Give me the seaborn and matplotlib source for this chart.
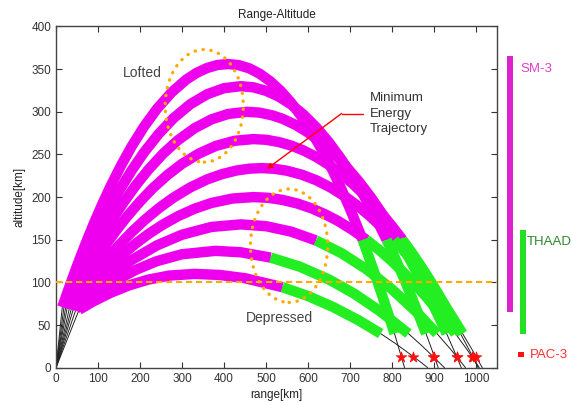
import numpy as np
import pandas as pd
import matplotlib
matplotlib.use('Agg')
import matplotlib.pyplot as plt
import seaborn as sns
from matplotlib.patches import Ellipse

# ---- trajectory data (range km, altitude km), named by apogee altitude ----
r110 = [0, 55, 90, 130, 175, 220, 270, 330, 390, 450, 539, 600, 660, 720, 773, 810, 851, 870, 885]
h110 = [0, 68, 78.0, 87.8, 96.7, 103.3, 108.0, 110, 108.7, 104.9, 94.4, 84.0, 71.1, 55.7, 40, 27.7, 13, 5.9, 0]

r138 = [0, 48, 90, 140, 190, 240, 300, 380, 440, 511, 580, 650, 710, 770, 839, 870, 898, 925]
h138 = [0, 69, 85.1, 101.5, 114.7, 124.9, 133.0, 137, 135.3, 129.1, 118.5, 103.4, 86.8, 66.8, 40, 26.3, 13, 0]

r170 = [0, 42, 80, 130, 180, 240, 300, 370, 440, 500, 560, 619, 680, 740, 800, 860, 907, 940, 954, 975]
h170 = [0, 70, 87.8, 108.5, 126.2, 143.3, 155.9, 165.0, 168, 165.9, 159.5, 149.2, 134.2, 115.2, 91.9, 64.5, 40, 21.3, 13, 0]

r200 = [0, 37, 52, 70, 90, 110, 135, 160, 190, 220, 255, 290, 330, 370, 420, 470, 505, 540, 575, 610,
        640, 670, 705, 739, 770, 800, 830, 860, 885, 910, 930, 951, 980, 990, 1008]
h200 = [0, 70, 78.8, 89.1, 99.9, 110.1, 122.2, 133.4, 145.6, 156.7, 167.9, 177.5, 186.4, 193.1, 198.3, 200, 199.2, 196.6, 192.4, 186.5,
        180.0, 172.4, 161.8, 150, 137.8, 124.8, 110.4, 94.9, 81.0, 66.2, 53.8, 40, 20.3, 13, 0]

r235 = [0, 32, 45, 60, 80, 100, 125, 150, 180, 210, 245, 280, 320, 360, 395, 430, 460, 490, 520, 550,
        585, 620, 655, 690, 720, 750, 780, 805, 835, 860, 885, 910, 940, 968, 990, 1000, 1015]
h235 = [0, 70, 79.2, 89.4, 102.6, 115.1, 129.8, 143.6, 158.9, 172.7, 187.1, 199.5, 211.4, 220.8, 226.9, 231.2, 233.3, 234, 233.2, 230.9,
        226.3, 219.7, 210.9, 200.0, 189.1, 176.6, 162.6, 150, 133.0, 117.8, 101.5, 84.2, 62.1, 40, 21.8, 13, 0]

r270 = [0, 27, 38, 50, 65, 80, 100, 120, 145, 170, 200, 230, 265, 300, 340, 380, 425, 470, 500, 530,
        560, 590, 620, 650, 680, 710, 740, 770, 800, 825, 848, 870, 890, 910, 940, 963, 985, 992, 1005]
h270 = [0, 71, 80.7, 90.9, 103.3, 115.3, 130.6, 145.0, 162.0, 177.7, 194.8, 210.2, 225.8, 239.0, 251.0, 259.9, 266.0, 268, 267.2, 264.6,
        260.4, 254.5, 246.9, 237.7, 226.7, 214.1, 199.7, 183.7, 166.0, 150, 134.2, 118.2, 102.8, 86.7, 61.2, 40, 19.7, 13, 0]

r300 = [0, 23, 33, 45, 60, 75, 92, 110, 135, 160, 190, 220, 255, 290, 330, 370, 410, 455, 485, 515,
        540, 570, 600, 630, 660, 690, 720, 750, 785, 816, 840, 860, 880, 900, 915, 930, 954, 965]
h300 = [0, 71, 81.5, 93.7, 108.5, 122.8, 138.3, 153.9, 174.3, 193.2, 213.8, 232.2, 250.9, 266.6, 280.8, 291.1, 297.5, 300, 299.0, 295.8,
        291.7, 284.7, 275.7, 264.7, 251.5, 236.3, 219.0, 199.6, 174.4, 150, 129.0, 110.8, 91.7, 71.6, 56.0, 40, 13, 0]

r330 = [0, 19, 28, 40, 52, 65, 82, 100, 125, 150, 180, 210, 245, 280, 320, 360, 400, 440, 470, 500,
        530, 560, 590, 620, 650, 680, 710, 740, 765, 787, 810, 830, 845, 860, 881, 901, 910]
h330 = [0, 71, 82.0, 96.2, 110.0, 124.5, 142.7, 161.1, 185.0, 207.1, 231.2, 252.7, 274.4, 292.6, 309.0, 320.6, 327.7, 330, 328.7, 324.6,
        317.9, 308.5, 296.4, 281.6, 264.1, 243.9, 221.1, 195.6, 172.2, 150, 125.5, 102.8, 85.0, 66.5, 40, 13, 0]

r360 = [0, 15, 25, 35, 47, 60, 75, 90, 110, 130, 155, 180, 210, 240, 275, 310, 335, 360, 385, 410,
        435, 460, 485, 510, 535, 560, 585, 610, 635, 660, 680, 700, 715, 730, 745, 760, 775, 790, 806, 822, 830]
h360 = [0, 71, 85.2, 99.1, 115.3, 132.2, 151.0, 169.0, 191.6, 212.8, 237.2, 259.4, 282.9, 303.2, 322.7, 337.7, 345.7, 351.4, 354.9, 356,
        354.7, 351.0, 344.6, 335.8, 324.5, 310.6, 294.2, 275.3, 253.8, 229.9, 208.9, 186.3, 168.3, 150, 129.5, 108.8, 87.1, 64.6, 40, 13, 0]

traj_names = ['110', '138', '170', '200', '235', '270', '300', '330', '360']
traj_r = [r110, r138, r170, r200, r235, r270, r300, r330, r360]
traj_h = [h110, h138, h170, h200, h235, h270, h300, h330, h360]
# range where the THAAD (green) portion begins on descent
green_start = [539, 511, 619, 739, 805, 825, 816, 787, 730]
thaad_floor = 40

# PAC-3 engagement points (stars)
star_r = [851, 898, 954, 990, 1000, 992, 954, 901, 822]
star_h = [13, 13, 13, 13, 13, 13, 13, 13, 13]

# interceptor altitude coverage (km)
sm3_band = [65, 365]
thaad_band = [40, 162]
pac3_band = [12, 18]

# ---- build tables ----
frames = []
for name, r, h, gs in zip(traj_names, traj_r, traj_h, green_start):
    d = pd.DataFrame({'r': r, 'h': h})
    d['traj'] = name
    d['idx'] = np.arange(len(d))
    d['gs'] = gs
    frames.append(d)
df = pd.concat(frames, ignore_index=True)
mag = df[(df.idx >= 1) & (df.r <= df.gs)]
grn = df[(df.r >= df.gs) & (df.h >= thaad_floor)]

sns.set_style('ticks')
plt.rcParams['font.family'] = ['Liberation Sans', 'DejaVu Sans']

fig = plt.figure(figsize=(5.86, 4.03), dpi=100)
ax = fig.add_axes([56/586, 1-367.7/403, 441/586, 341.2/403])

sns.lineplot(data=df, x='r', y='h', units='traj', estimator=None, sort=False,
             color='#222222', lw=0.7, ax=ax, zorder=2)
sns.lineplot(data=mag, x='r', y='h', units='traj', estimator=None, sort=False,
             color='#ee00ee', lw=7.5, ax=ax, zorder=3,
             solid_capstyle='butt', solid_joinstyle='round')
sns.lineplot(data=grn, x='r', y='h', units='traj', estimator=None, sort=False,
             color='#22ee22', lw=7.5, ax=ax, zorder=4,
             solid_capstyle='butt', solid_joinstyle='round')
sns.scatterplot(x=star_r, y=star_h, marker='*', s=65, color='#ff1010',
                edgecolor='#ff1010', linewidth=0.5, ax=ax, zorder=5)

# 100 km reference line
ax.axhline(100, color='#ffaa00', ls=(0, (3, 1.8)), lw=1.5, zorder=6)

# dotted ellipses
for (cx, cy, w, hgt) in [(353, 307, 186, 132), (555, 143, 184, 133)]:
    e = Ellipse((cx, cy), w, hgt, fill=False, ec='#ffaa00', lw=2.4, zorder=6)
    e.set_linestyle((0, (0.1, 2.3)))
    e.set_capstyle('round')
    ax.add_patch(e)

ax.text(160, 346, 'Lofted', fontsize=10, color='#444444', ha='left', va='center')
ax.text(452, 58, 'Depressed', fontsize=10, color='#444444', ha='left', va='center')
ax.text(748, 298, 'Minimum\nEnergy\nTrajectory', fontsize=9.5, color='#333333',
        ha='left', va='center', linespacing=1.35)
ax.plot([680, 731], [298, 298], color='red', lw=1, zorder=7)
ax.annotate('', xy=(502, 233), xytext=(680, 298),
            arrowprops=dict(arrowstyle='-|>', color='red', lw=1,
                            mutation_scale=8, shrinkA=0, shrinkB=0), zorder=7)

ax.set_xlim(0, 1050)
ax.set_ylim(0, 400)
ax.set_xticks(range(0, 1001, 100))
ax.set_yticks(range(0, 401, 50))
ax.tick_params(direction='in', top=True, right=True, length=4, width=0.8,
               labelsize=8.5, colors='#333333')
for sp in ax.spines.values():
    sp.set_color('#444444')
    sp.set_linewidth(1)
ax.set_xlabel('range[km]', fontsize=8.5, color='#222222', labelpad=3)
ax.set_ylabel('altitude[km]', fontsize=8.5, color='#222222', labelpad=4)
ax.set_title('Range-Altitude', fontsize=8.5, color='#222222', pad=6)

# interceptor coverage bars outside the axes
ax.plot([1081, 1081], sm3_band, color='#dd22cc', lw=4.3, clip_on=False, solid_capstyle='butt')
ax.plot([1111, 1111], thaad_band, color='#22e022', lw=4.3, clip_on=False, solid_capstyle='butt')
ax.plot([1108, 1108], pac3_band, color='#ff1010', lw=4.3, clip_on=False, solid_capstyle='butt')
ax.text(1106, 350, 'SM-3', color='#e040c8', fontsize=9.5, ha='left', va='center', clip_on=False)
ax.text(1121, 147, 'THAAD', color='#2a8a2a', fontsize=9.5, ha='left', va='center', clip_on=False)
ax.text(1128, 15, 'PAC-3', color='#ff3030', fontsize=9.5, ha='left', va='center', clip_on=False)

fig.savefig('out.png', dpi=100)
